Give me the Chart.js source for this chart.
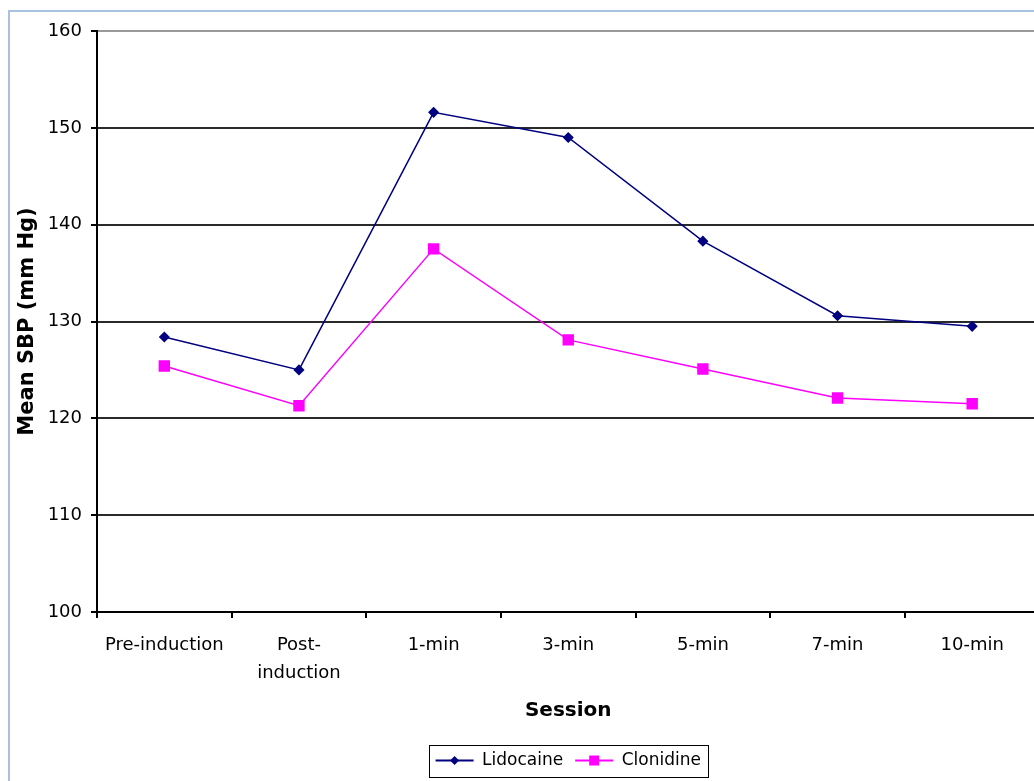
<!DOCTYPE html>
<html>
<head>
<meta charset="utf-8">
<script src="https://cdn.jsdelivr.net/npm/chart.js@4.4.1/dist/chart.umd.min.js"></script>
<style>
  html, body { margin: 0; padding: 0; background: #fff; overflow: hidden; width: 1034px; height: 781px; }
  #marco { position: absolute; left: 8px; top: 10px; width: 2000px; height: 2000px; border: 2px solid #a9c2e0; }
  #grafica_sbp { position: absolute; left: 0; top: 0; }
</style>
</head>
<body>
<div id="marco"></div>
<canvas id="grafica_sbp" width="1048" height="781"></canvas>
<script>
// datos
const sesiones = ['Pre-induction', ['Post-', 'induction'], '1-min', '3-min', '5-min', '7-min', '10-min'];
const lidocaina = [128.4, 125.0, 151.6, 149.0, 138.3, 130.6, 129.5];
const clonidina = [125.4, 121.3, 137.5, 128.1, 125.1, 122.1, 121.5];
const eje_y = { min: 100, max: 160, paso: 10 };

const fuente = 'DejaVu Sans';

// dibuja el marcador encima de la linea de la leyenda y el recuadro
const leyenda_con_marcador = {
  id: 'leyenda_con_marcador',
  afterDraw(chart) {
    const leg = chart.legend;
    if (!leg || !leg.legendHitBoxes) return;
    const c = chart.ctx;
    const anchoCaja = leg.options.labels.boxWidth;
    let izq = Infinity, der = -Infinity, arr = Infinity, aba = -Infinity;
    leg.legendHitBoxes.forEach((hb, i) => {
      const ds = chart.data.datasets[i];
      const cx = hb.left + anchoCaja / 2;
      const cy = hb.top + hb.height / 2;
      c.save();
      c.fillStyle = ds.borderColor;
      c.beginPath();
      if (ds.pointStyle === 'rectRot') {
        const r = 4.5;
        c.moveTo(cx, cy - r); c.lineTo(cx + r, cy); c.lineTo(cx, cy + r); c.lineTo(cx - r, cy);
      } else {
        c.rect(cx - 5, cy - 5, 10, 10);
      }
      c.closePath();
      c.fill();
      c.restore();
      izq = Math.min(izq, hb.left); der = Math.max(der, hb.left + hb.width);
      arr = Math.min(arr, hb.top); aba = Math.max(aba, hb.top + hb.height);
    });
    c.save();
    c.strokeStyle = '#000';
    c.lineWidth = 1;
    c.strokeRect(Math.round(izq - 7) + 0.5, Math.round(arr - 7) + 0.5, Math.round(der - izq + 14), Math.round(aba - arr + 15));
    c.restore();
  }
};

const ctx = document.getElementById('grafica_sbp').getContext('2d');

const grafica_sbp = new Chart(ctx, {
  type: 'line',
  data: {
    labels: sesiones,
    datasets: [
      {
        label: 'Lidocaine',
        data: lidocaina,
        borderColor: '#000080',
        backgroundColor: '#000080',
        borderWidth: 1.5,
        pointStyle: 'rectRot',
        pointRadius: 4.5,
        pointHoverRadius: 4.5,
        tension: 0
      },
      {
        label: 'Clonidine',
        data: clonidina,
        borderColor: '#ff00ff',
        backgroundColor: '#ff00ff',
        borderWidth: 1.5,
        pointStyle: 'rect',
        pointRadius: 7,
        pointHoverRadius: 7,
        tension: 0
      }
    ]
  },
  options: {
    responsive: false,
    animation: false,
    layout: { padding: { top: 31, left: 0, right: 0, bottom: 2 } },
    scales: {
      x: {
        offset: true,
        grid: { offset: true, drawOnChartArea: false, drawTicks: true, tickLength: 6, color: '#000', lineWidth: 2 },
        border: { color: '#000', width: 2 },
        ticks: { color: '#000', padding: 13, maxRotation: 0, autoSkip: false, font: { family: fuente, size: 18, lineHeight: 1.55 } },
        title: { display: true, text: 'Session', color: '#000', padding: { top: 0, bottom: 17 }, font: { family: fuente, size: 20, weight: 'bold' } },
        afterFit(scale) { scale.height = 128; }
      },
      y: {
        min: eje_y.min,
        max: eje_y.max,
        grid: {
          color: (c) => (c.tick && c.tick.value === eje_y.max ? '#999' : '#2a2a2a'),
          tickColor: '#000',
          lineWidth: 2,
          tickLength: 6
        },
        border: { color: '#000', width: 2 },
        ticks: { stepSize: eje_y.paso, color: '#000', padding: 9, font: { family: fuente, size: 18 } },
        title: { display: true, text: 'Mean SBP (mm Hg)', color: '#000', padding: { top: 15, bottom: 0 }, font: { family: fuente, size: 21, weight: 'bold' } },
        afterFit(scale) { scale.width = 97; }
      }
    },
    plugins: {
      tooltip: { enabled: false },
      legend: {
        position: 'bottom',
        fullSize: false,
        labels: {
          boxWidth: 38,
          boxHeight: 2,
          padding: 12,
          color: '#000',
          font: { family: fuente, size: 17 },
          generateLabels(chart) {
            return Chart.defaults.plugins.legend.labels.generateLabels(chart).map((l, i) => {
              l.fillStyle = chart.data.datasets[i].borderColor;
              l.lineWidth = 0;
              return l;
            });
          }
        }
      }
    }
  },
  plugins: [leyenda_con_marcador]
});
</script>
</body>
</html>
